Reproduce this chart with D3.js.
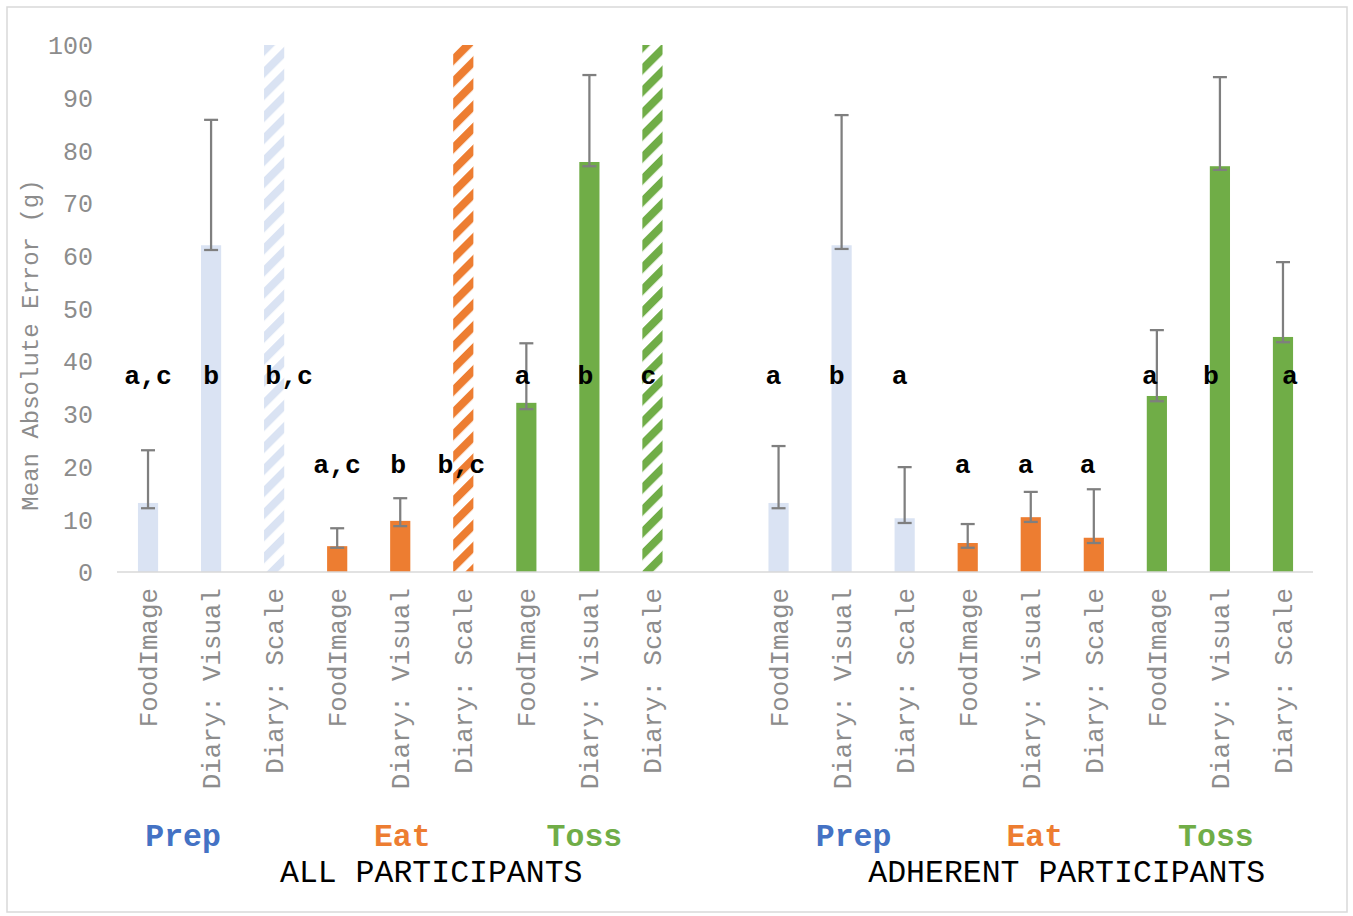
<!DOCTYPE html>
<html>
<head>
<meta charset="utf-8">
<script src="https://cdn.jsdelivr.net/npm/d3@7"></script>
<style>
  html, body { margin: 0; padding: 0; background: #fff; }
  svg { display: block; }
</style>
</head>
<body>
<svg id="chart" width="1353" height="916"></svg>
<script>
// ---------------- DATA ----------------
const methods = ["FoodImage", "Diary: Visual", "Diary: Scale"];
const phases = ["Prep", "Eat", "Toss"];
const populations = ["ALL PARTICIPANTS", "ADHERENT PARTICIPANTS"];
const yTicks = [0, 10, 20, 30, 40, 50, 60, 70, 80, 90, 100];
const yTitle = "Mean Absolute Error (g)";

// ALL PARTICIPANTS (order: Prep x3, Eat x3, Toss x3); null = not available (hatched)
const allMeans  = [13.1, 62.0, null, 4.9, 9.7, null, 32.1, 77.8, null];
const allLower  = [12.1, 61.1, null, 4.6, 8.7, null, 30.9, 77.0, null];
const allUpper  = [23.1, 85.8, null, 8.3, 14.0, null, 43.4, 94.3, null];
const allLetters = ["a,c", "b", "b,c", "a,c", "b", "b,c", "a", "b", "c"];

// ADHERENT PARTICIPANTS
const adhMeans  = [13.1, 62.0, 10.2, 5.5, 10.4, 6.5, 33.4, 77.0, 44.6];
const adhLower  = [12.1, 61.3, 9.3, 4.6, 9.5, 5.5, 32.4, 76.3, 43.6];
const adhUpper  = [23.9, 86.7, 19.9, 9.1, 15.2, 15.7, 45.9, 93.9, 58.8];
const adhLetters = ["a", "b", "a", "a", "a", "a", "a", "b", "a"];

// height (in g) where the significance letters sit, per phase
const letterLevels = [37.2, 20.3, 37.2];
// hatched bars (no data) span the full axis
const hatchedValue = 100;

// ---------------- STYLE / LAYOUT ----------------
const fillColors  = { Prep: "#DAE3F3", Eat: "#ED7D31", Toss: "#70AD47" };
const labelColors = { Prep: "#4472C4", Eat: "#ED7D31", Toss: "#70AD47" };
const mono = "'Courier New', 'Nimbus Mono PS', 'FreeMono', 'Liberation Mono', monospace";
const grayText = "#8c8c8c";
// hand-placed nudges of the letter text boxes (px)
const letterNudge = [0, 0, 15, 0, -2, -2, -4, -4, -4, -5, -5, -5, -5, -5, -6, -7, -9, 7];

// ---------------- BUILD ROWS ----------------
const rows = [];
function addPop(popIdx, means, lower, upper, letters) {
  means.forEach((m, i) => {
    rows.push({
      key: popIdx + "-" + i,
      pop: popIdx,
      phase: phases[Math.floor(i / 3)],
      phaseIdx: Math.floor(i / 3),
      method: methods[i % 3],
      mean: m, lo: lower[i], hi: upper[i], letter: letters[i]
    });
  });
}
addPop(0, allMeans, allLower, allUpper, allLetters);
const gapKey = "gap";
addPop(1, adhMeans, adhLower, adhUpper, adhLetters);

const domain = rows.slice(0, 9).map(d => d.key).concat([gapKey], rows.slice(9).map(d => d.key));

const svg = d3.select("#chart");

// border
svg.append("rect").attr("x", 7).attr("y", 7).attr("width", 1340).attr("height", 905)
  .attr("fill", "#fff").attr("stroke", "#d9d9d9").attr("stroke-width", 1.5);

const x = d3.scaleBand().domain(domain).range([116.5, 1314.5]).paddingInner(0.68).paddingOuter(0.34);
const y = d3.scaleLinear().domain([0, 100]).range([572, 45]);

// patterns
const defs = svg.append("defs");
phases.forEach(p => {
  const pat = defs.append("pattern")
    .attr("id", "hatch-" + p)
    .attr("patternUnits", "userSpaceOnUse")
    .attr("width", 15.6).attr("height", 15.6)
    .attr("patternTransform", "rotate(45)");
  pat.append("rect").attr("x", 0).attr("y", 0).attr("width", 15.6).attr("height", 15.6).attr("fill", "#fff");
  pat.append("rect").attr("x", 0).attr("y", 0).attr("width", 8).attr("height", 15.6).attr("fill", fillColors[p]);
});

// y axis ticks (labels only)
const yAxis = d3.axisLeft(y).tickValues(yTicks).tickSize(0).tickPadding(0);
const gy = svg.append("g").attr("transform", "translate(93,0)").call(yAxis);
gy.select(".domain").remove();
gy.selectAll("text")
  .attr("font-family", mono).attr("font-size", 25).attr("fill", grayText)
  .attr("x", 0).attr("dy", "0.35em");

// y title
svg.append("text")
  .attr("transform", "translate(30,345) rotate(-90)")
  .attr("text-anchor", "middle").attr("dy", "0.35em")
  .attr("font-family", mono).attr("font-size", 24).attr("fill", grayText)
  .text(yTitle);

// bars
const g = svg.append("g");
g.selectAll("rect.bar").data(rows).join("rect")
  .attr("class", "bar")
  .attr("x", d => x(d.key))
  .attr("width", x.bandwidth())
  .attr("y", d => y(d.mean == null ? hatchedValue : d.mean))
  .attr("height", d => y(0) - y(d.mean == null ? hatchedValue : d.mean))
  .attr("fill", d => d.mean == null ? "url(#hatch-" + d.phase + ")" : fillColors[d.phase]);

// x axis line
svg.append("line").attr("x1", 117).attr("x2", 1313).attr("y1", y(0)).attr("y2", y(0))
  .attr("stroke", "#d9d9d9").attr("stroke-width", 1.5);

// error bars
const withErr = rows.filter(d => d.mean != null);
const eb = svg.append("g").attr("stroke", "#7f7f7f").attr("stroke-width", 2.25);
const cx = d => x(d.key) + x.bandwidth() / 2;
eb.selectAll("line.v").data(withErr).join("line")
  .attr("x1", cx).attr("x2", cx).attr("y1", d => y(d.lo)).attr("y2", d => y(d.hi));
eb.selectAll("line.t").data(withErr).join("line")
  .attr("x1", d => cx(d) - 7).attr("x2", d => cx(d) + 7).attr("y1", d => y(d.hi)).attr("y2", d => y(d.hi));
eb.selectAll("line.b").data(withErr).join("line")
  .attr("x1", d => cx(d) - 7).attr("x2", d => cx(d) + 7).attr("y1", d => y(d.lo)).attr("y2", d => y(d.lo));

// significance letters
svg.append("g").selectAll("text").data(rows).join("text")
  .attr("x", (d, i) => cx(d) + letterNudge[i])
  .attr("y", d => y(letterLevels[d.phaseIdx]))
  .attr("dy", "0.3em")
  .attr("text-anchor", "middle")
  .attr("font-family", mono).attr("font-size", 26.5).attr("font-weight", "bold").attr("fill", "#000")
  .text(d => d.letter);

// x category labels (rotated)
svg.append("g").selectAll("text").data(rows).join("text")
  .attr("transform", d => `translate(${cx(d)},588) rotate(-90)`)
  .attr("text-anchor", "end").attr("dy", "0.35em")
  .attr("font-family", mono).attr("font-size", 25.8).attr("fill", grayText)
  .text(d => d.method);

// phase labels: anchored to the middle bar of each phase with a small offset
const phaseAnchors = [
  { pop: 0, off: [-28, 2, -5] },
  { pop: 1, off: [12, 4, -4] }
];
phaseAnchors.forEach(pa => {
  phases.forEach((p, i) => {
    const r = rows.find(d => d.pop === pa.pop && d.phase === p && d.method === methods[1]);
    svg.append("text")
      .attr("x", cx(r) + pa.off[i]).attr("y", 846)
      .attr("text-anchor", "middle")
      .attr("font-family", mono).attr("font-size", 31.5).attr("font-weight", "bold")
      .attr("fill", labelColors[p])
      .text(p);
  });
});

// population labels
populations.forEach((lab, pi) => {
  const rs = rows.filter(d => d.pop === pi);
  const mid = (cx(rs[0]) + cx(rs[rs.length - 1])) / 2;
  svg.append("text")
    .attr("x", mid + (pi === 0 ? 31 : 36)).attr("y", 882)
    .attr("text-anchor", "middle")
    .attr("font-family", mono).attr("font-size", 31.5).attr("fill", "#000")
    .text(lab);
});
</script>
</body>
</html>
